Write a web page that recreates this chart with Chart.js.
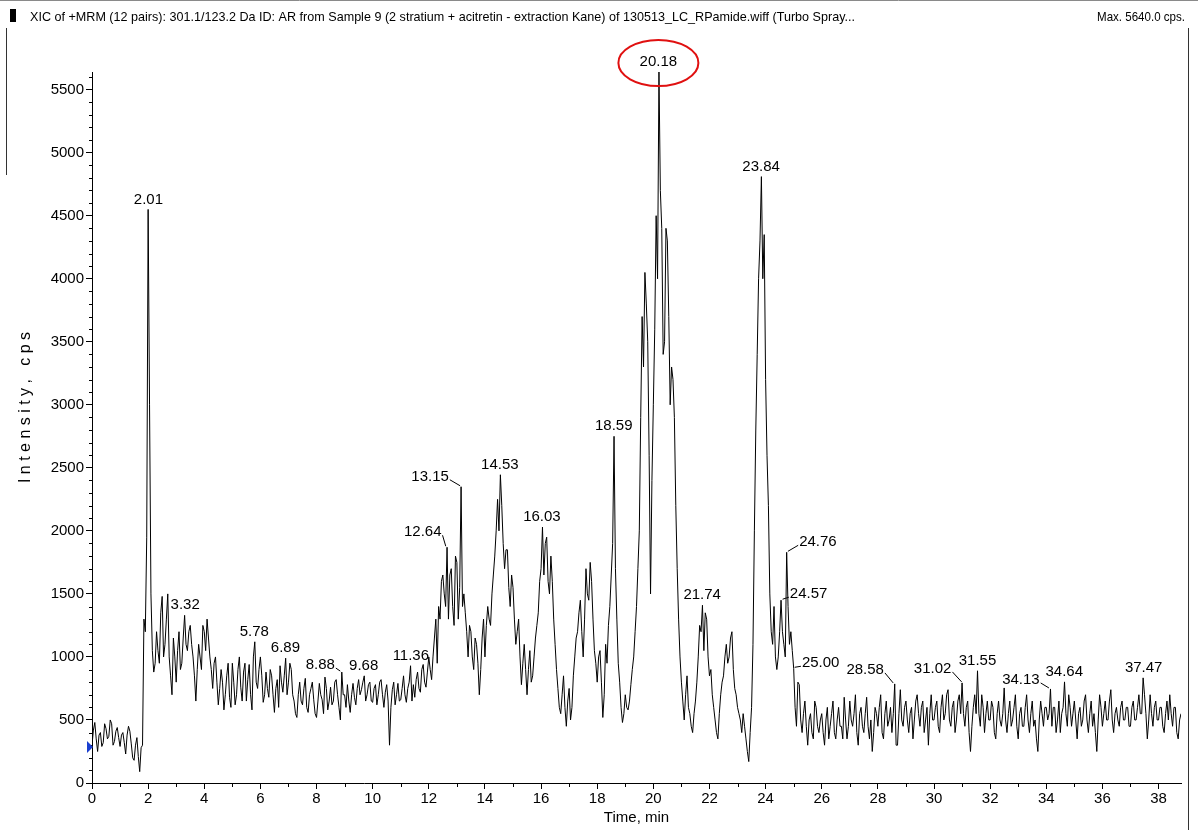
<!DOCTYPE html>
<html>
<head>
<meta charset="utf-8">
<script src="https://cdn.jsdelivr.net/npm/chart.js@4.4.0/dist/chart.umd.min.js"></script>
<style>
  html, body { margin: 0; padding: 0; background: #fff; }
  canvas { display: block; }
</style>
</head>
<body>
<canvas id="xic" width="1198" height="830"></canvas>
<script>
// --- data ---
const headerText = 'XIC of +MRM (12 pairs): 301.1/123.2 Da ID: AR from Sample 9 (2 stratium + acitretin - extraction Kane) of 130513_LC_RPamide.wiff (Turbo Spray...';
const maxText = 'Max. 5640.0 cps.';

const startTime = 0;      // min
const sampleStep = 0.05;  // min between samples

// intensity, cps, one row per minute (20 samples), 0.00 .. 38.80 min
const intensity = [
  300, 420, 480, 350, 250, 380, 400, 290, 320, 470, 430, 350, 370, 500, 470, 300, 330, 410, 440, 360,
  290, 380, 400, 320, 230, 380, 450, 410, 310, 200, 180, 300, 360, 210, 90, 280, 300, 1300, 1200, 1950,
  4550, 3000, 1500, 1050, 880, 950, 1200, 1050, 950, 1350, 1480, 1000, 1100, 1300, 1500, 1000, 850, 700, 1150, 1000,
  800, 1050, 1200, 900, 950, 1150, 1330, 1100, 1050, 1200, 1250, 1100, 1000, 850, 650, 900, 1100, 1000, 900, 1250,
  1200, 1050, 1300, 1150, 1000, 900, 750, 950, 1000, 800, 620, 750, 900, 800, 580, 700, 850, 950, 680, 600,
  950, 800, 620, 700, 900, 1000, 760, 650, 880, 950, 650, 820, 940, 700, 580, 1000, 1120, 800, 750, 900,
  1000, 850, 640, 700, 880, 750, 680, 900, 850, 700, 560, 750, 820, 600, 930, 800, 720, 850, 990, 700,
  800, 950, 900, 700, 650, 550, 520, 700, 800, 650, 620, 750, 830, 600, 560, 700, 750, 800, 660, 550,
  520, 650, 790, 700, 660, 550, 840, 750, 580, 650, 760, 620, 650, 800, 820, 700, 600, 500, 880, 700,
  700, 600, 780, 650, 560, 700, 790, 680, 620, 750, 820, 700, 740, 800, 850, 650, 700, 780, 800, 650,
  640, 750, 780, 620, 700, 800, 820, 700, 600, 720, 780, 650, 300, 600, 740, 800, 620, 700, 790, 650,
  660, 750, 850, 700, 640, 750, 800, 930, 650, 780, 680, 820, 880, 750, 720, 900, 940, 800, 760, 880,
  1000, 900, 820, 1000, 1150, 1300, 950, 1400, 1300, 1600, 1650, 1500, 1400, 1870, 1300, 1650, 1700, 1400, 1250, 1800,
  1750, 1300, 1550, 2350, 1400, 1500, 1350, 1200, 1000, 1250, 1200, 1000, 900, 1150, 1100, 950, 700, 900, 1150, 1300,
  1000, 1250, 1400, 1300, 1250, 1500, 1650, 1800, 2000, 2250, 2000, 2445, 2200, 1900, 1700, 1850, 1850, 1550, 1400, 1650,
  1550, 1300, 1100, 1200, 1300, 1000, 780, 950, 1100, 900, 700, 900, 1050, 800, 850, 1000, 1150, 1250, 1350, 1600,
  1700, 2030, 1650, 1900, 1950, 1600, 1500, 1800, 1600, 1300, 1100, 900, 750, 600, 550, 700, 850, 600, 450, 650,
  750, 500, 600, 850, 1000, 1150, 1200, 1350, 1450, 1200, 1000, 1300, 1700, 1500, 1450, 1750, 1600, 1300, 1050, 950,
  800, 1000, 1050, 800, 520, 700, 1100, 950, 1250, 1400, 1650, 1900, 2750, 1700, 1300, 950, 800, 600, 480, 550,
  700, 600, 580, 650, 780, 900, 1000, 1200, 1400, 1700, 2000, 2900, 3700, 3300, 4050, 3800, 3500, 2600, 1500, 2400,
  3000, 3600, 4500, 4000, 5640, 4700, 4400, 3400, 3500, 4400, 4300, 3700, 3000, 3300, 3200, 2900, 2200, 1700, 1300, 1000,
  800, 650, 500, 700, 850, 600, 550, 450, 400, 550, 650, 800, 1000, 1250, 1200, 1410, 1050, 1350, 1300, 1000,
  850, 900, 700, 600, 500, 400, 350, 550, 700, 800, 850, 1000, 1100, 950, 1000, 1150, 1200, 900, 750, 700,
  600, 550, 500, 400, 550, 450, 350, 250, 170, 400, 600, 1100, 2000, 2800, 3400, 4000, 4300, 4810, 4000, 4350,
  3200, 2600, 2200, 1500, 1200, 1100, 1400, 1000, 900, 1000, 1200, 1450, 1200, 1100, 1000, 1830, 1400, 1100, 1200, 1050,
  910, 600, 450, 800, 780, 500, 400, 550, 650, 450, 300, 500, 550, 400, 350, 650, 600, 450, 400, 500,
  550, 400, 300, 500, 600, 350, 450, 550, 650, 400, 350, 500, 600, 450, 450, 350, 680, 500, 350, 450,
  650, 500, 450, 550, 700, 400, 300, 550, 600, 450, 400, 550, 680, 450, 350, 500, 250, 400, 600, 550,
  450, 600, 700, 400, 350, 550, 650, 450, 500, 600, 400, 550, 786, 300, 300, 550, 740, 500, 450, 600,
  650, 500, 400, 550, 600, 350, 500, 650, 700, 550, 450, 600, 650, 400, 500, 600, 300, 550, 700, 500,
  500, 600, 650, 450, 400, 600, 700, 500, 550, 700, 740, 500, 450, 600, 650, 400, 500, 650, 700, 550,
  794, 550, 450, 600, 650, 400, 250, 450, 600, 700, 550, 890, 550, 450, 700, 600, 400, 550, 650, 500,
  500, 650, 600, 400, 350, 550, 650, 500, 450, 550, 754, 500, 400, 550, 650, 450, 500, 600, 700, 450,
  350, 550, 600, 450, 450, 600, 700, 500, 400, 550, 650, 450, 500, 350, 250, 500, 650, 550, 450, 600,
  600, 500, 550, 746, 450, 600, 600, 400, 500, 650, 400, 550, 600, 802, 550, 450, 700, 600, 450, 550,
  650, 500, 350, 550, 600, 450, 500, 650, 700, 500, 400, 550, 650, 450, 550, 400, 250, 500, 700, 600,
  450, 550, 650, 500, 500, 650, 740, 500, 400, 550, 600, 500, 450, 600, 650, 500, 500, 600, 600, 450,
  450, 600, 650, 500, 500, 600, 700, 550, 550, 834, 700, 550, 350, 500, 700, 550, 450, 600, 650, 500,
  500, 600, 600, 450, 400, 550, 650, 500, 700, 550, 450, 600, 600, 400, 350, 500, 550
];

// labelled peaks (retention time, min)
const peakTimes = [2.01, 3.32, 5.78, 6.89, 8.88, 9.68, 11.36, 12.64, 13.15, 14.53, 16.03, 18.59,
  20.18, 21.74, 23.84, 24.57, 24.76, 25.00, 28.58, 31.02, 31.55, 34.13, 34.64, 37.47];
const peakNames = ['2.01', '3.32', '5.78', '6.89', '8.88', '9.68', '11.36', '12.64', '13.15', '14.53', '16.03', '18.59',
  '20.18', '21.74', '23.84', '24.57', '24.76', '25.00', '28.58', '31.02', '31.55', '34.13', '34.64', '37.47'];
const circledPeak = '20.18';

const timeRange = [0, 38.8];
const intensityRange = [0, 5640];
const intensityTicks = [0, 500, 1000, 1500, 2000, 2500, 3000, 3500, 4000, 4500, 5000, 5500];
const baselineMarker = 285;   // blue start marker level, cps

// --- layout / styling ---
const FONT = "'Liberation Sans', Arial, Helvetica, sans-serif";

// text offsets for labels that sit beside their peak (others sit straight above)
const labelShift = {
  '8.88':  { dx: -21, dy: -7 },
  '12.64': { dx: -24, dy: -15 },
  '13.15': { dx: -31, dy: -10 },
  '24.57': { dx: 27, dy: -6 },
  '24.76': { dx: 31, dy: -10 },
  '25.00': { dx: 27, dy: -5 },
  '28.58': { dx: -29, dy: -14 },
  '31.02': { dx: -30, dy: -14 },
  '34.13': { dx: -29, dy: -9 }
};

const points = intensity.map((v, i) => ({ x: +(startTime + i * sampleStep).toFixed(2), y: v }));

// highest sample next to a given retention time
function apexValue(t) {
  const f = (t - startTime) / sampleStep;
  const a = intensity[Math.floor(f + 1e-6)] || 0;
  const b = intensity[Math.ceil(f - 1e-6)] || 0;
  return Math.max(a, b);
}

const overlay = {
  id: 'overlay',
  beforeDraw(chart) {
    const ctx = chart.ctx;
    ctx.save();
    ctx.fillStyle = '#fff';
    ctx.fillRect(0, 0, chart.width, chart.height);

    // window frame bits
    ctx.strokeStyle = '#8a8a8a';
    ctx.lineWidth = 1;
    ctx.beginPath();
    ctx.moveTo(0, 0.5); ctx.lineTo(chart.width, 0.5);
    ctx.stroke();
    ctx.strokeStyle = '#333';
    ctx.beginPath();
    ctx.moveTo(6.5, 28); ctx.lineTo(6.5, 175);
    ctx.moveTo(1188.5, 28); ctx.lineTo(1188.5, chart.height);
    ctx.stroke();

    // header
    ctx.fillStyle = '#000';
    ctx.fillRect(10, 9, 6, 13);
    ctx.font = '13px ' + FONT;
    ctx.textBaseline = 'alphabetic';
    ctx.textAlign = 'left';
    ctx.fillText(headerText, 30, 21, 825);
    ctx.textAlign = 'right';
    ctx.fillText(maxText, 1185, 21, 88);
    ctx.restore();
  },
  afterDraw(chart) {
    const ctx = chart.ctx;
    const xs = chart.scales.x, ys = chart.scales.y;
    const area = chart.chartArea;
    ctx.save();

    // minor ticks
    ctx.strokeStyle = '#000';
    ctx.lineWidth = 1;
    ctx.beginPath();
    for (let v = 100; v <= intensityRange[1]; v += 100) {
      if (v % 500 === 0) continue;
      const y = Math.round(ys.getPixelForValue(v)) + 0.5;
      ctx.moveTo(area.left - 3, y); ctx.lineTo(area.left, y);
    }
    for (let t = 1; t <= timeRange[1]; t += 2) {
      const x = Math.round(xs.getPixelForValue(t)) + 0.5;
      ctx.moveTo(x, area.bottom); ctx.lineTo(x, area.bottom + 4);
    }
    ctx.stroke();

    // blue start marker
    const my = ys.getPixelForValue(baselineMarker);
    ctx.fillStyle = '#1a3fd0';
    ctx.beginPath();
    ctx.moveTo(area.left - 5, my - 6);
    ctx.lineTo(area.left + 1, my);
    ctx.lineTo(area.left - 5, my + 6);
    ctx.closePath();
    ctx.fill();

    // peak labels
    ctx.font = '15px ' + FONT;
    ctx.textAlign = 'center';
    ctx.textBaseline = 'middle';
    ctx.fillStyle = '#000';
    peakTimes.forEach((t, k) => {
      const ax = xs.getPixelForValue(t);
      const ay = ys.getPixelForValue(apexValue(t));
      const name = peakNames[k];
      const sh = labelShift[name] || { dx: 0, dy: -10 };
      const cx = ax + sh.dx, cy = ay + sh.dy;
      ctx.fillText(name, cx, cy);
      if (sh.dx !== 0) {
        const w = ctx.measureText(name).width / 2;
        const sx = sh.dx < 0 ? cx + w + 1 : cx - w - 1;
        ctx.beginPath();
        ctx.moveTo(sx, cy + 3);
        ctx.lineTo(ax + (sh.dx < 0 ? -1 : 1), ay - 1);
        ctx.stroke();
      }
      if (name === circledPeak) {
        ctx.save();
        ctx.strokeStyle = '#e01010';
        ctx.lineWidth = 2;
        ctx.beginPath();
        ctx.ellipse(cx, cy + 1, 40, 23, 0, 0, Math.PI * 2);
        ctx.stroke();
        ctx.restore();
      }
    });
    ctx.restore();
  }
};

new Chart(document.getElementById('xic').getContext('2d'), {
  type: 'line',
  data: {
    datasets: [{
      data: points,
      borderColor: '#000',
      borderWidth: 1,
      pointRadius: 0,
      tension: 0,
      fill: false
    }]
  },
  options: {
    responsive: false,
    animation: false,
    devicePixelRatio: 1,
    parsing: false,
    layout: { padding: { left: 0, right: 17, top: 72, bottom: 0 } },
    plugins: { legend: { display: false }, tooltip: { enabled: false } },
    scales: {
      x: {
        type: 'linear',
        min: timeRange[0],
        max: timeRange[1],
        border: { color: '#000', width: 1 },
        grid: { drawOnChartArea: false, tickLength: 6, tickColor: '#000' },
        ticks: {
          stepSize: 2, includeBounds: false, autoSkip: false, maxRotation: 0, maxTicksLimit: 40,
          color: '#000', padding: 1, font: { family: FONT, size: 15 },
          callback: v => String(v)
        },
        title: {
          display: true, text: 'Time, min', color: '#000',
          font: { family: FONT, size: 15 }, padding: { top: 0, bottom: 3 }
        },
        afterFit(s) { s.height = 47; }
      },
      y: {
        min: intensityRange[0],
        max: intensityRange[1],
        border: { color: '#000', width: 1 },
        grid: { drawOnChartArea: false, tickLength: 6, tickColor: '#000' },
        ticks: {
          autoSkip: false,
          color: '#000', padding: 2, font: { family: FONT, size: 15 },
          callback: v => String(v)
        },
        afterBuildTicks(s) { s.ticks = intensityTicks.map(v => ({ value: v })); },
        title: {
          display: true, text: '         I n t e n s i t y ,   c p s', color: '#000',
          font: { family: FONT, size: 16 }, padding: { top: 16, bottom: 0 }
        },
        afterFit(s) { s.width = 92; }
      }
    }
  },
  plugins: [overlay]
});
</script>
</body>
</html>
